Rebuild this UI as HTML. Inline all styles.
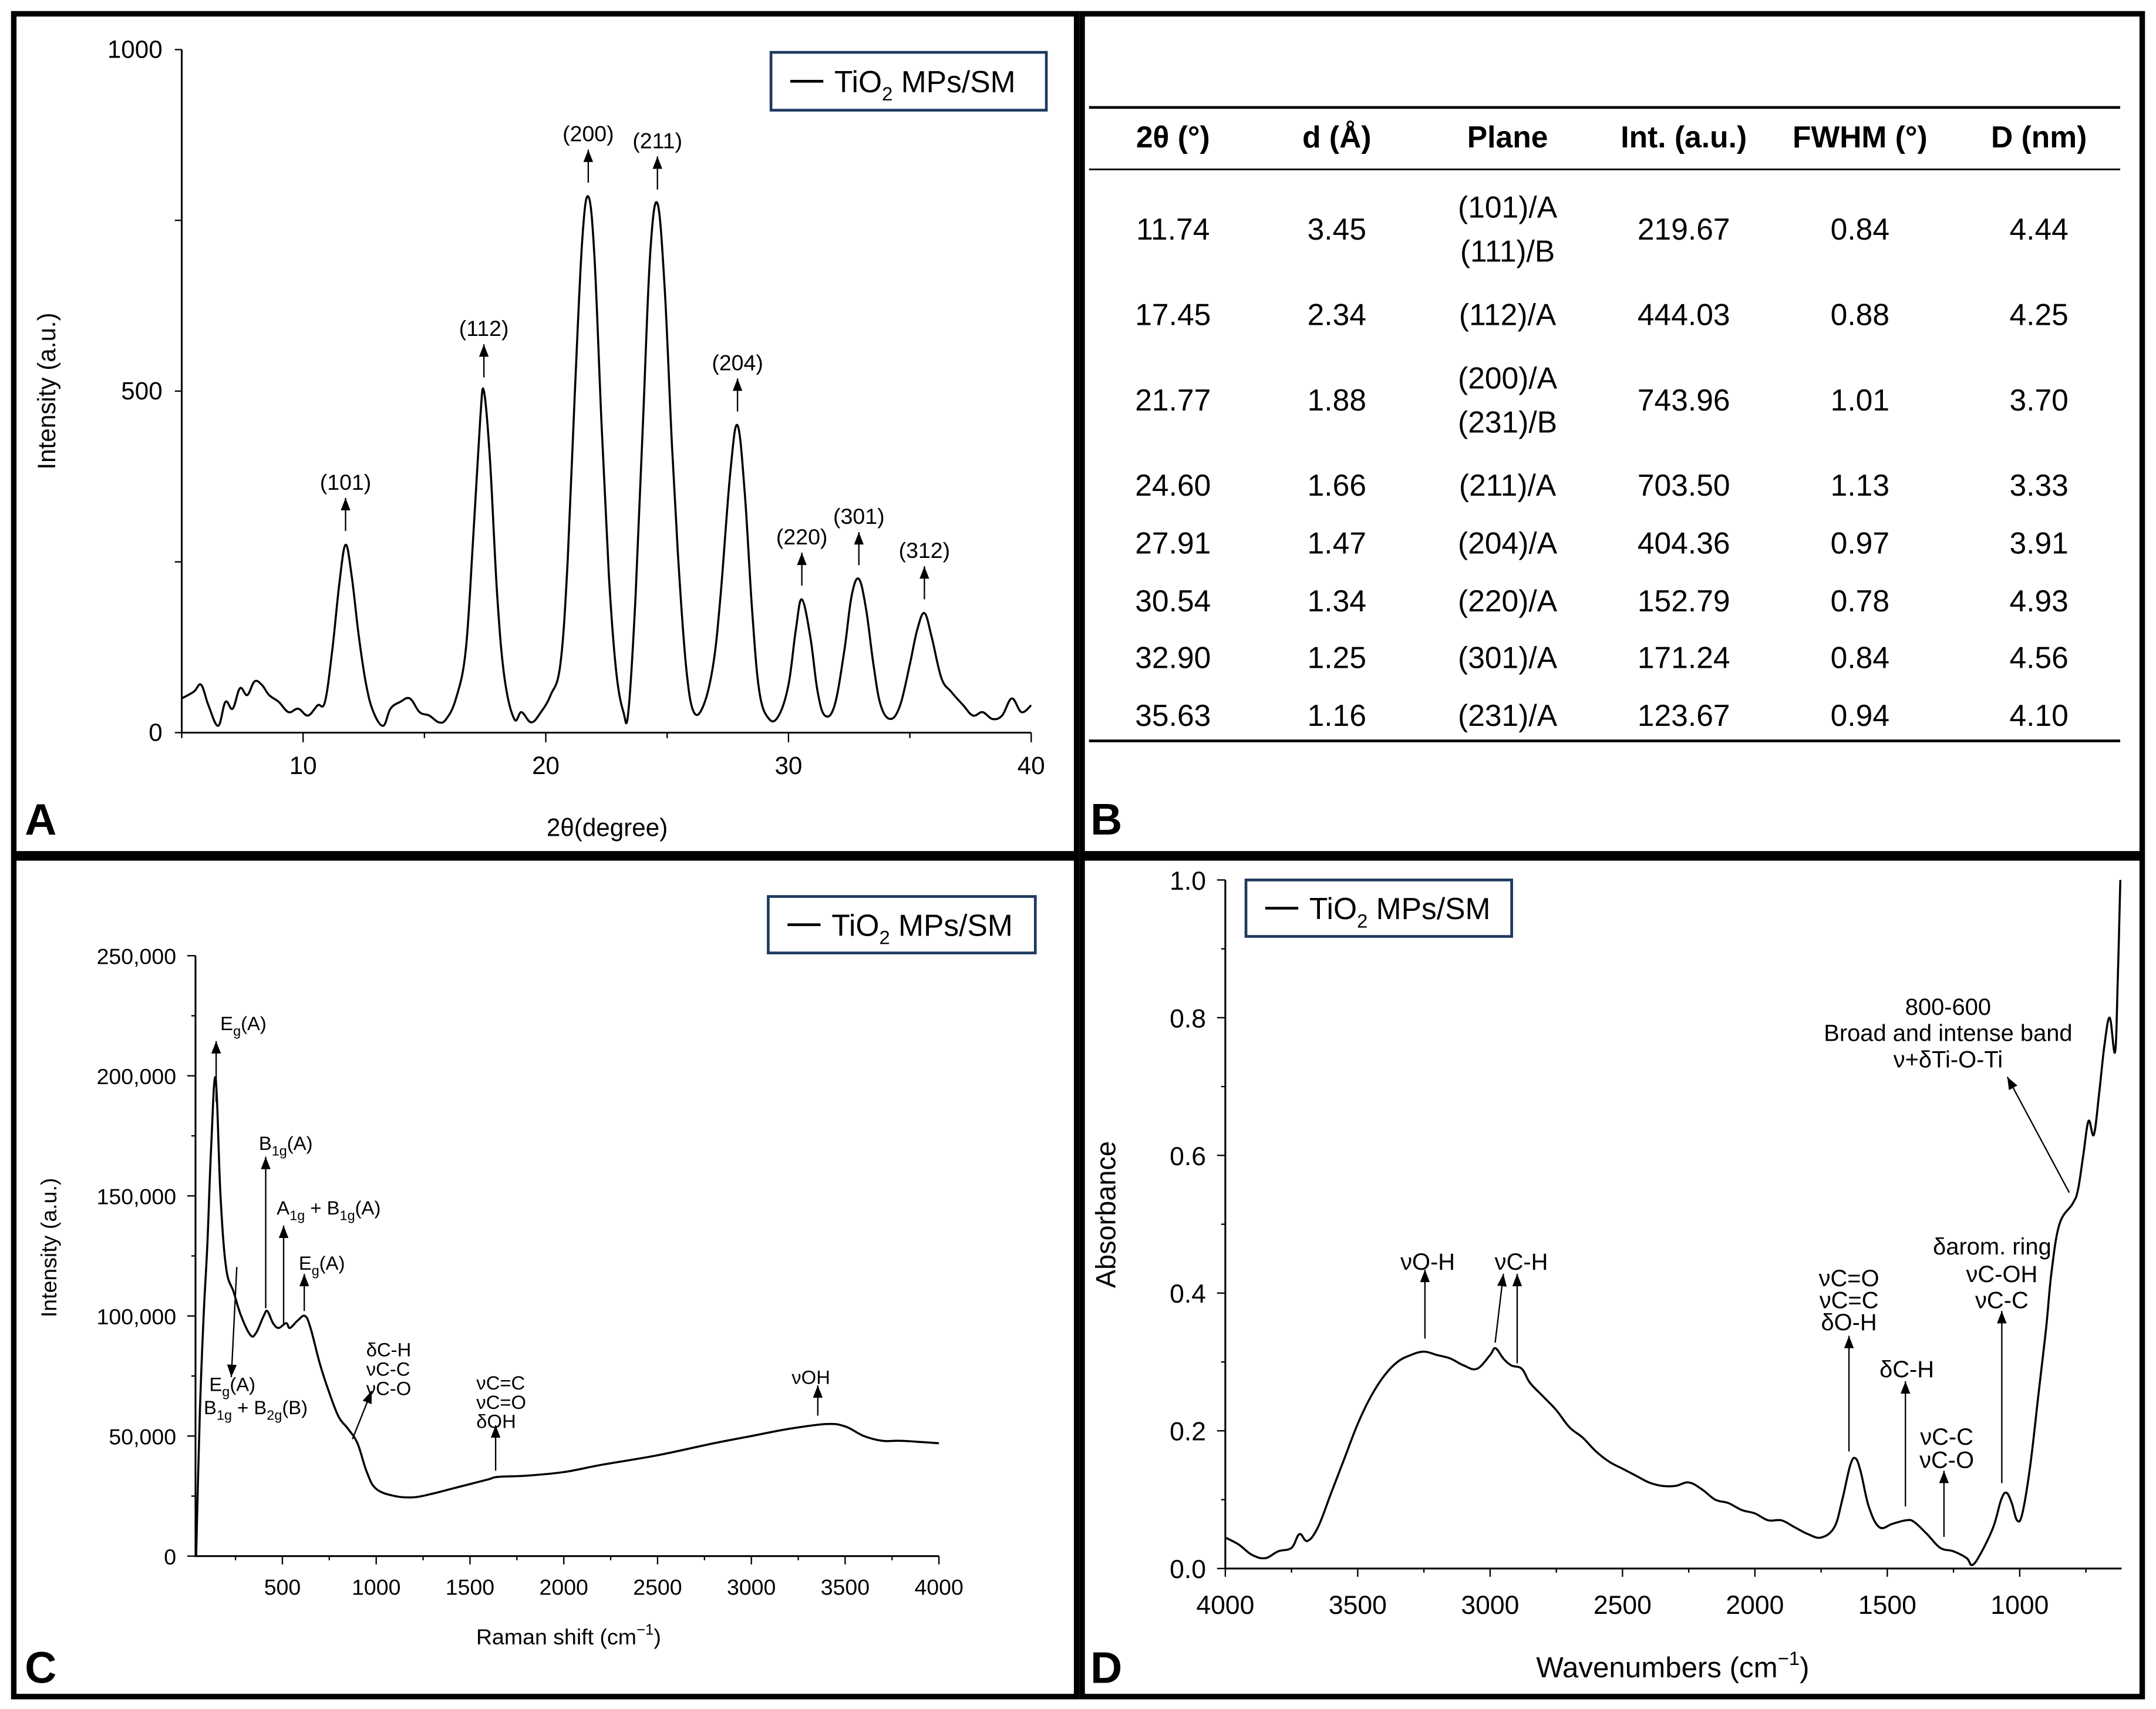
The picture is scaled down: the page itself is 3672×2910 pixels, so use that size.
<!DOCTYPE html>
<html><head><meta charset="utf-8"><style>
html,body{margin:0;padding:0;background:#fff;}
svg{display:block;font-family:"Liberation Sans",Arial,sans-serif;}
</style></head><body>
<svg id="fig" width="3672" height="2910" viewBox="0 0 1566 1241" xmlns="http://www.w3.org/2000/svg">
<rect x="0" y="0" width="1566" height="1241" fill="#fff"/>
<g fill="none" stroke="#000" stroke-width="4">
<rect x="10" y="10" width="772" height="610"/>
<rect x="786" y="10" width="770" height="610"/>
<rect x="10" y="623" width="772" height="609"/>
<rect x="786" y="623" width="770" height="609"/>
</g>
<g font-weight="bold" font-size="32">
<text x="18" y="606">A</text>
<text x="792" y="606">B</text>
<text x="18" y="1222">C</text>
<text x="792" y="1222">D</text>
</g>
<g id="pa"></g>
<g id="pb" font-size="22"></g>
<g id="pc"></g>
<g id="pd"></g>
</svg>
<script>
const xrdTheta = [5.0,5.5,5.8,6.1,6.5,6.8,7.1,7.4,7.7,8.0,8.3,8.6,9.0,9.4,9.8,10.2,10.6,10.9,11.2,11.5,11.75,12.0,12.3,12.6,12.9,13.3,13.6,14.0,14.4,14.8,15.2,15.6,15.9,16.3,16.7,17.0,17.3,17.45,17.7,18.0,18.3,18.7,19.0,19.4,19.8,20.2,20.6,20.9,21.2,21.5,21.75,22.0,22.3,22.6,22.9,23.2,23.4,23.7,24.0,24.3,24.6,24.9,25.2,25.5,25.8,26.1,26.5,26.9,27.2,27.6,27.9,28.2,28.5,28.8,29.2,29.6,30.0,30.3,30.55,30.9,31.2,31.5,31.9,32.3,32.6,32.9,33.2,33.5,33.8,34.2,34.6,35.0,35.3,35.6,35.9,36.3,36.7,37.2,37.6,38.0,38.4,38.8,39.2,39.6,40.0];
const xrdIntensity = [50,60,70,40,10,45,35,65,55,75,70,55,45,30,35,25,40,45,120,220,275,230,140,70,30,10,35,45,50,30,25,15,20,50,120,280,460,500,400,200,80,20,30,15,30,55,100,250,500,720,785,700,450,230,90,30,30,200,450,700,775,650,420,230,90,30,40,100,200,380,450,350,180,60,20,25,70,150,195,140,60,25,40,120,200,225,180,100,40,20,40,100,150,175,140,80,60,40,25,30,20,25,50,30,40];
const xrdPeakLabels = ["(101)","(112)","(200)","(211)","(204)","(220)","(301)","(312)"];
const xrdPeakPos = [11.75,17.45,21.75,24.6,27.9,30.55,32.9,35.6];
const xrdPeakHeight = [275,500,785,775,450,195,225,175];
const xrdYTicks = [0,500,1000];
const xrdXTicks = [10,20,30,40];

const tblHeaders = ["2θ (°)","d (Å)","Plane","Int. (a.u.)","FWHM (°)","D (nm)"];
const tblTheta = ["11.74","17.45","21.77","24.60","27.91","30.54","32.90","35.63"];
const tblD = ["3.45","2.34","1.88","1.66","1.47","1.34","1.25","1.16"];
const tblPlane = [["(101)/A","(111)/B"],["(112)/A"],["(200)/A","(231)/B"],["(211)/A"],["(204)/A"],["(220)/A"],["(301)/A"],["(231)/A"]];
const tblInt = ["219.67","444.03","743.96","703.50","404.36","152.79","171.24","123.67"];
const tblFwhm = ["0.84","0.88","1.01","1.13","0.97","0.78","0.84","0.94"];
const tblSize = ["4.44","4.25","3.70","3.33","3.91","4.93","4.56","4.10"];

const ramanShift = [40,60,80,100,120,144,170,200,240,280,330,360,400,420,450,480,520,540,580,620,650,700,750,800,850,900,950,1000,1100,1200,1300,1400,1500,1600,1650,1800,2000,2200,2500,2800,3000,3200,3400,3500,3600,3700,3800,4000];
const ramanIntensity = [0,60000,100000,130000,170000,199000,150000,120000,110000,100000,92000,93000,100000,102000,97000,95000,97000,95000,98000,100000,95000,80000,68000,58000,53000,47000,35000,28000,25000,24500,26000,28000,30000,32000,33000,33500,35000,38000,42000,47000,50000,53000,55000,54000,50000,48000,48000,47000];
const ramanYTicks = [0,50000,100000,150000,200000,250000];
const ramanXTicks = [500,1000,1500,2000,2500,3000,3500,4000];

const ftirWave = [4000,3950,3900,3850,3800,3750,3720,3690,3650,3600,3550,3500,3450,3400,3350,3300,3250,3200,3150,3100,3050,3000,2980,2950,2920,2880,2850,2800,2750,2700,2650,2600,2550,2500,2450,2400,2350,2300,2250,2200,2150,2100,2050,2000,1950,1900,1850,1800,1750,1700,1670,1640,1620,1600,1570,1530,1480,1430,1400,1350,1300,1250,1200,1180,1150,1100,1070,1050,1030,1010,990,960,930,900,880,850,800,780,760,740,720,700,680,660,640,630,620];
const ftirAbs = [0.045,0.035,0.02,0.015,0.025,0.03,0.05,0.04,0.06,0.11,0.16,0.21,0.25,0.28,0.30,0.31,0.315,0.31,0.305,0.295,0.29,0.31,0.32,0.305,0.295,0.29,0.27,0.25,0.23,0.205,0.19,0.17,0.155,0.145,0.135,0.125,0.12,0.12,0.125,0.115,0.1,0.095,0.085,0.08,0.07,0.07,0.06,0.05,0.045,0.06,0.1,0.15,0.16,0.14,0.09,0.06,0.065,0.07,0.068,0.05,0.03,0.025,0.015,0.005,0.02,0.06,0.1,0.11,0.095,0.07,0.08,0.15,0.25,0.35,0.43,0.5,0.53,0.55,0.6,0.65,0.63,0.69,0.76,0.8,0.75,0.85,1.0];
const ftirYTicks = [0.0,0.2,0.4,0.6,0.8,1.0];
const ftirXTicks = [4000,3500,3000,2500,2000,1500,1000];

const NS = "http://www.w3.org/2000/svg";
function mk(parent, tag, attrs, text){
  const e = document.createElementNS(NS, tag);
  for (const k in attrs) e.setAttribute(k, attrs[k]);
  if (text !== undefined) e.textContent = text;
  parent.appendChild(e);
  return e;
}
function lin(d0,d1,r0,r1){ return v => r0 + (v-d0)/(d1-d0)*(r1-r0); }
function pathFrom(xs, ys, fx, fy){
  const P = xs.map((x,i)=>[fx(x), fy(ys[i])]);
  let d = "M"+P[0][0].toFixed(2)+","+P[0][1].toFixed(2);
  const t = 0.18;
  for (let i=0;i<P.length-1;i++){
    const p0=P[Math.max(i-1,0)], p1=P[i], p2=P[i+1], p3=P[Math.min(i+2,P.length-1)];
    const c1x=p1[0]+(p2[0]-p0[0])*t, c1y=p1[1]+(p2[1]-p0[1])*t;
    const c2x=p2[0]-(p3[0]-p1[0])*t, c2y=p2[1]-(p3[1]-p1[1])*t;
    d += "C"+c1x.toFixed(2)+","+c1y.toFixed(2)+" "+c2x.toFixed(2)+","+c2y.toFixed(2)+" "+p2[0].toFixed(2)+","+p2[1].toFixed(2);
  }
  return d;
}
function arrow(g, x1,y1,x2,y2, name){
  const ln = mk(g,"line",{x1:x1,y1:y1,x2:x2,y2:y2,stroke:"#000","stroke-width":1});
  
  
  const a = Math.atan2(y2-y1,x2-x1), L=9, W=3.5;
  const bx = x2-L*Math.cos(a), by = y2-L*Math.sin(a);
  const px = -Math.sin(a)*W, py = Math.cos(a)*W;
  const hd = mk(g,"polygon",{points:`${x2},${y2} ${bx+px},${by+py} ${bx-px},${by-py}`,fill:"#000"});
  
  
}
function legend(g, x, y, w, h, name){
  const lg = mk(g,"g",{});
  
  
  mk(lg,"rect",{x:x,y:y,width:w,height:h,fill:"#fff",stroke:"#1f3a5f","stroke-width":2});
  mk(lg,"line",{x1:x+14,y1:y+h/2,x2:x+38,y2:y+h/2,stroke:"#000","stroke-width":2});
  const t = mk(lg,"text",{x:x+46,y:y+h/2+8,"font-size":22});
  t.innerHTML = 'TiO<tspan font-size="14" dy="6">2</tspan><tspan dy="-6"> MPs/SM</tspan>';
}

(function(){
  const g = document.getElementById('pa');
  const fx = lin(5,40,132,749), fy = lin(0,1000,532,36);
  const ax = mk(g,"path",{d:"M132,36L132,532L749,532",fill:"none",stroke:"#000","stroke-width":1.3});
   
  for (let v=0; v<=1000; v+=250){ mk(g,"line",{x1:132,x2:127,y1:fy(v),y2:fy(v),stroke:"#000"}); }
  for (let v=5; v<=40; v+=5){ mk(g,"line",{x1:fx(v),x2:fx(v),y1:532,y2:v%10==0?539:536,stroke:"#000"}); }
  xrdYTicks.forEach(v=>{
    const t = mk(g,"text",{x:118,y:fy(v)+6,"font-size":18,"text-anchor":"end"},String(v));
     
  });
  xrdXTicks.forEach(v=>{
    const t = mk(g,"text",{x:fx(v),y:562,"font-size":18,"text-anchor":"middle"},String(v));
     
  });
  const yt = mk(g,"text",{x:0,y:0,"font-size":18,"text-anchor":"middle",transform:"translate(40,284) rotate(-90)"},"Intensity (a.u.)");
   
  const xt = mk(g,"text",{x:441,y:607,"font-size":18,"text-anchor":"middle"},"2θ(degree)");
   
  const p = mk(g,"path",{d:pathFrom(xrdTheta,xrdIntensity,fx,fy),fill:"none",stroke:"#000","stroke-width":1.5,"stroke-linejoin":"round"});
   
  xrdPeakLabels.forEach((lab,i)=>{
    const x = fx(xrdPeakPos[i]), yb = fy(xrdPeakHeight[i])-10;
    arrow(g, x, yb, x, yb-24, 'xrd-peak-arrow');
    const t = mk(g,"text",{x:x,y:yb-30,"font-size":16,"text-anchor":"middle"},lab);
     
  });
  legend(g,560,38,200,42,'xrd-legend');
})();

(function(){
  const g = document.getElementById('pb');
  const cols = [852,971,1095,1223,1351,1481];
  [78,123,538].forEach((y,i)=>{ const l = mk(g,"line",{x1:791,x2:1540,y1:y,y2:y,stroke:"#000","stroke-width":i==1?1.2:2});
      });
  tblHeaders.forEach((h,i)=>{ const t = mk(g,"text",{x:cols[i],y:107,"font-weight":"bold","text-anchor":"middle"},h);
      });
  const rowsY = [166,228,290,352,394,436,477,519];
  rowsY.forEach((y,r)=>{
    const vals = [tblTheta[r],tblD[r],null,tblInt[r],tblFwhm[r],tblSize[r]];
    vals.forEach((v,c)=>{
      if (c===2){
        const pl = tblPlane[r];
        pl.forEach((s,k)=>{ const t = mk(g,"text",{x:cols[c],y:y+8+(pl.length==2?(k?16:-16):0),"text-anchor":"middle"},s);
            });
      } else {
        const t = mk(g,"text",{x:cols[c],y:y+8,"text-anchor":"middle"},v);
         
      }
    });
  });
})();

(function(){
  const g = document.getElementById('pc');
  const fx = lin(0,4000,137,682), fy = lin(0,250000,1130,694);
  const ax = mk(g,"path",{d:"M142,694L142,1130L682,1130",fill:"none",stroke:"#000","stroke-width":1.3});
   
  for (let v=0; v<=250000; v+=25000){ mk(g,"line",{x1:142,x2:v%50000==0?136:139,y1:fy(v),y2:fy(v),stroke:"#000"}); }
  for (let v=250; v<=4000; v+=250){ mk(g,"line",{x1:fx(v),x2:fx(v),y1:1130,y2:v%500==0?1136:1133,stroke:"#000"}); }
  ramanYTicks.forEach(v=>{
    const t = mk(g,"text",{x:128,y:fy(v)+6,"font-size":16,"text-anchor":"end"},v.toLocaleString('en-US'));
     
  });
  ramanXTicks.forEach(v=>{
    const t = mk(g,"text",{x:fx(v),y:1158,"font-size":16,"text-anchor":"middle"},String(v));
     
  });
  const yt = mk(g,"text",{x:0,y:0,"font-size":16,"text-anchor":"middle",transform:"translate(41,906) rotate(-90)"},"Intensity (a.u.)");
   
  const xt = mk(g,"text",{x:413,y:1194,"font-size":16,"text-anchor":"middle"});
  xt.innerHTML = 'Raman shift (cm<tspan font-size="11" dy="-7">−1</tspan><tspan dy="7">)</tspan>';
   
  const p = mk(g,"path",{d:pathFrom(ramanShift,ramanIntensity,fx,fy),fill:"none",stroke:"#000","stroke-width":1.5,"stroke-linejoin":"round"});
   
  arrow(g,157,800,157,756,'raman-arrow');
  arrow(g,193,950,193,840,'raman-arrow');
  arrow(g,206,962,206,890,'raman-arrow');
  arrow(g,221,952,221,925,'raman-arrow');
  arrow(g,172,920,168,1000,'raman-arrow');
  arrow(g,256,1045,270,1010,'raman-arrow');
  arrow(g,360,1068,360,1035,'raman-arrow');
  arrow(g,594,1028,594,1006,'raman-arrow');
  const labs = [
    [160,748,'E<tspan font-size="10" dy="4">g</tspan><tspan dy="-4">(A)</tspan>'],
    [188,835,'B<tspan font-size="10" dy="4">1g</tspan><tspan dy="-4">(A)</tspan>'],
    [201,882,'A<tspan font-size="10" dy="4">1g</tspan><tspan dy="-4"> + B</tspan><tspan font-size="10" dy="4">1g</tspan><tspan dy="-4">(A)</tspan>'],
    [217,922,'E<tspan font-size="10" dy="4">g</tspan><tspan dy="-4">(A)</tspan>'],
    [152,1010,'E<tspan font-size="10" dy="4">g</tspan><tspan dy="-4">(A)</tspan>'],
    [148,1027,'B<tspan font-size="10" dy="4">1g</tspan><tspan dy="-4"> + B</tspan><tspan font-size="10" dy="4">2g</tspan><tspan dy="-4">(B)</tspan>'],
    [266,985,'δC-H'],[266,999,'νC-C'],[266,1013,'νC-O'],
    [346,1009,'νC=C'],[346,1023,'νC=O'],[346,1037,'δOH'],
    [575,1005,'νOH']
  ];
  labs.forEach(l=>{ const t = mk(g,"text",{x:l[0],y:l[1],"font-size":14});
    t.innerHTML = l[2];
      });
  legend(g,558,651,194,41,'raman-legend');
})();

(function(){
  const g = document.getElementById('pd');
  const fx = lin(4000,1000,890,1467), fy = lin(0,1,1139,639);
  const ax = mk(g,"path",{d:"M890,639L890,1139L1541,1139",fill:"none",stroke:"#000","stroke-width":1.3});
   
  for (let i=0; i<=10; i++){ const v=i/10; mk(g,"line",{x1:890,x2:i%2==0?884:887,y1:fy(v),y2:fy(v),stroke:"#000"}); }
  for (let v=4000; v>=650; v-=250){ mk(g,"line",{x1:fx(v),x2:fx(v),y1:1139,y2:v%500==0?1145:1142,stroke:"#000"}); }
  ftirYTicks.forEach(v=>{
    const t = mk(g,"text",{x:876,y:fy(v)+7,"font-size":19,"text-anchor":"end"},v.toFixed(1));
     
  });
  ftirXTicks.forEach(v=>{
    const t = mk(g,"text",{x:fx(v),y:1172,"font-size":19,"text-anchor":"middle"},String(v));
     
  });
  const yt = mk(g,"text",{x:0,y:0,"font-size":20,"text-anchor":"middle",transform:"translate(810,882) rotate(-90)"},"Absorbance");
   
  const xt = mk(g,"text",{x:1215,y:1218,"font-size":21,"text-anchor":"middle"});
  xt.innerHTML = 'Wavenumbers (cm<tspan font-size="14" dy="-9">−1</tspan><tspan dy="9">)</tspan>';
   
  const p = mk(g,"path",{d:pathFrom(ftirWave,ftirAbs,fx,fy),fill:"none",stroke:"#000","stroke-width":1.5,"stroke-linejoin":"round"});
   
  arrow(g,1035,972,1035,922,'ftir-arrow');
  arrow(g,1086,975,1092,925,'ftir-arrow');
  arrow(g,1102,990,1102,925,'ftir-arrow');
  arrow(g,1343,1054,1343,970,'ftir-arrow');
  arrow(g,1384,1094,1384,1003,'ftir-arrow');
  arrow(g,1412,1116,1412,1068,'ftir-arrow');
  arrow(g,1454,1077,1454,952,'ftir-arrow');
  arrow(g,1503,866,1458,782,'ftir-arrow');
  const labs = [
    [1037,922,'νO-H'],[1105,922,'νC-H'],
    [1343,934,'νC=O'],[1343,950,'νC=C'],[1343,966,'δO-H'],
    [1385,1000,'δC-H'],[1414,1049,'νC-C'],[1414,1066,'νC-O'],
    [1447,911,'δarom. ring'],[1454,931,'νC-OH'],[1454,950,'νC-C'],
    [1415,737,'800-600'],[1415,756,'Broad and intense band'],[1415,775,'ν+δTi-O-Ti']
  ];
  labs.forEach(l=>{ const t = mk(g,"text",{x:l[0],y:l[1],"font-size":17,"text-anchor":"middle"},l[2]);
      });
  legend(g,905,639,193,41,'ftir-legend');
})();
</script>
</body></html>
